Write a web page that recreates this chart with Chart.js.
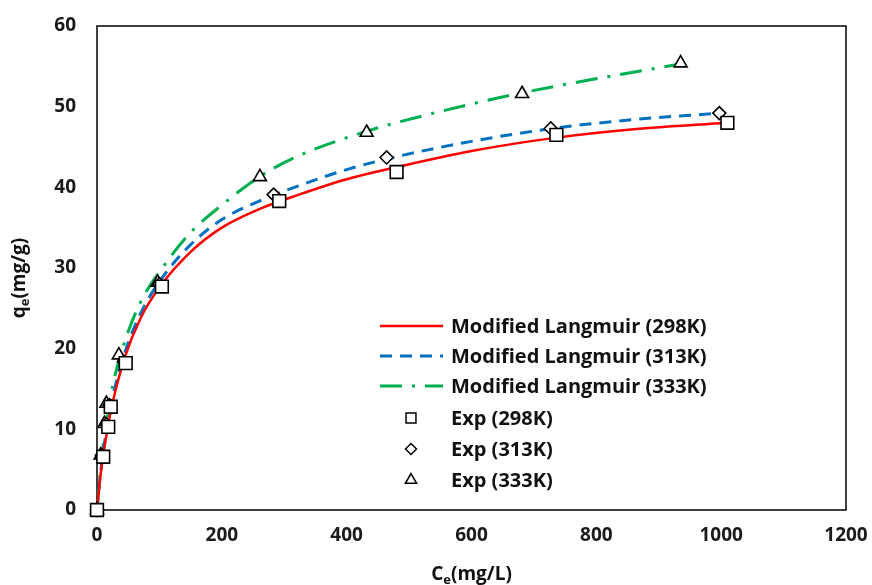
<!DOCTYPE html>
<html>
<head>
<meta charset="utf-8">
<script src="https://cdn.jsdelivr.net/npm/chart.js@4"></script>
<style>
  html, body { margin: 0; padding: 0; background: #fff; }
  #wrap { width: 872px; height: 585px; }
</style>
</head>
<body>
<div id="wrap"><canvas id="chart" width="872" height="585"></canvas></div>
<script>
// experimental points
const expC298 = [0, 10, 18, 22, 46, 104, 292, 480, 736, 1010];
const expQ298 = [0, 6.6, 10.3, 12.8, 18.2, 27.7, 38.3, 41.9, 46.5, 48.0];
const expC313 = [0, 8, 15, 20, 43, 100, 283, 464, 727, 997];
const expQ313 = [0, 6.8, 10.6, 13.0, 18.4, 28.0, 39.1, 43.7, 47.3, 49.2];
const expC333 = [0, 6, 12, 15, 35, 97, 261, 432, 681, 935];
const expQ333 = [0, 6.8, 10.7, 13.2, 19.2, 28.2, 41.3, 46.8, 51.6, 55.4];

// fitted curves
const fitC298 = [0, 2, 5, 10, 18, 25, 45, 70, 100, 150, 200, 260, 320, 400, 480, 600, 730, 860, 1010];
const fitQ298 = [0, 1.6, 3.9, 6.8, 10.6, 13.3, 19.0, 23.8, 27.6, 32.0, 35.0, 37.3, 39.0, 41.0, 42.5, 44.5, 46.1, 47.2, 48.0];
const fitC313 = [0, 2, 5, 10, 18, 25, 45, 70, 100, 150, 200, 260, 320, 400, 480, 600, 730, 860, 1000];
const fitQ313 = [0, 1.7, 4.1, 7.2, 11.2, 14.0, 19.6, 24.4, 28.3, 32.9, 36.0, 38.3, 40.1, 42.2, 43.8, 45.7, 47.3, 48.4, 49.2];
const fitC333 = [0, 2, 5, 10, 18, 25, 45, 70, 100, 150, 200, 260, 320, 430, 550, 680, 810, 935];
const fitQ333 = [0, 1.9, 4.5, 8.0, 12.4, 15.4, 21.0, 25.8, 29.5, 34.4, 37.8, 41.3, 43.8, 46.9, 49.4, 51.7, 53.6, 55.3];

const xTicks = [0, 200, 400, 600, 800, 1000, 1200];
const yTicks = [0, 10, 20, 30, 40, 50, 60];

const FONT = "'Open Sans', 'DejaVu Sans', sans-serif";
const pts = (xs, ys) => xs.map((x, i) => ({ x: x, y: ys[i] }));

const lineSets = [
  { label: 'Modified Langmuir (298K)', data: pts(fitC298, fitQ298), color: '#ff0000', dash: [], width: 2.5 },
  { label: 'Modified Langmuir (313K)', data: pts(fitC313, fitQ313), color: '#0070c0', dash: [12, 8], width: 3 },
  { label: 'Modified Langmuir (333K)', data: pts(fitC333, fitQ333), color: '#00b050', dash: [22, 10, 3, 10], width: 3 }
];
const markerSets = [
  { label: 'Exp (298K)', data: pts(expC298, expQ298), style: 'rect', r: 9, lr: 7 },
  { label: 'Exp (313K)', data: pts(expC313, expQ313), style: 'rectRot', r: 6.5, lr: 5.5 },
  { label: 'Exp (333K)', data: pts(expC333, expQ333), style: 'triangle', r: 7.5, lr: 6.5 }
];

const datasets = [];
lineSets.forEach(s => datasets.push({
  label: s.label, data: s.data, showLine: true, order: 2,
  borderColor: s.color, borderWidth: s.width, borderDash: s.dash,
  cubicInterpolationMode: 'monotone', pointRadius: 0, fill: false
}));
markerSets.forEach(s => datasets.push({
  label: s.label, data: s.data, showLine: false, order: 1, clip: false,
  pointStyle: s.style, pointRadius: s.r, pointBackgroundColor: '#fff',
  pointBorderColor: '#000', pointBorderWidth: 1.6
}));

// keep the plot box where the reference has it
function noPad(s) {
  s.paddingLeft = 0; s.paddingRight = 0; s.paddingTop = 0; s.paddingBottom = 0;
}

const decor = {
  id: 'decor',
  beforeDatasetsDraw(chart) {
    const { ctx, chartArea: a } = chart;
    ctx.save();
    ctx.strokeStyle = '#000';
    ctx.lineWidth = 1.5;
    ctx.strokeRect(a.left, a.top, a.right - a.left, a.bottom - a.top);
    ctx.restore();
  },
  afterDraw(chart) {
    const { ctx, chartArea: a } = chart;
    ctx.save();
    ctx.fillStyle = '#111';
    ctx.textBaseline = 'alphabetic';

    // x title C_e(mg/L)
    const big = 'bold 19px ' + FONT, small = 'bold 13px ' + FONT;
    ctx.font = big;
    const wC = ctx.measureText('C').width, wR = ctx.measureText('(mg/L)').width;
    ctx.font = small;
    const wE = ctx.measureText('e').width;
    let x = (a.left + a.right) / 2 - (wC + wE + wR) / 2, y = 580;
    ctx.font = big; ctx.fillText('C', x, y);
    ctx.font = small; ctx.fillText('e', x + wC, y + 4);
    ctx.font = big; ctx.fillText('(mg/L)', x + wC + wE, y);

    // y title q_e(mg/g)
    ctx.save();
    ctx.translate(25, (a.top + a.bottom) / 2 + 10);
    ctx.rotate(-Math.PI / 2);
    ctx.font = big;
    const wQ = ctx.measureText('q').width, wG = ctx.measureText('(mg/g)').width;
    x = -(wQ + wE + wG) / 2;
    ctx.fillText('q', x, 0);
    ctx.font = small; ctx.fillText('e', x + wQ, 4);
    ctx.font = big; ctx.fillText('(mg/g)', x + wQ + wE, 0);
    ctx.restore();

    // legend
    ctx.font = 'bold 20px ' + FONT;
    ctx.textBaseline = 'middle';
    const rows = [326, 356, 386, 418, 449, 480];
    lineSets.forEach((s, i) => {
      ctx.save();
      ctx.strokeStyle = s.color;
      ctx.lineWidth = s.width;
      ctx.setLineDash(s.dash);
      ctx.beginPath();
      ctx.moveTo(380, rows[i]);
      ctx.lineTo(443, rows[i]);
      ctx.stroke();
      ctx.restore();
      ctx.fillText(s.label, 451, rows[i] + 1);
    });
    markerSets.forEach((s, i) => {
      const yy = rows[i + 3];
      ctx.save();
      ctx.fillStyle = '#fff';
      ctx.strokeStyle = '#000';
      ctx.lineWidth = 1.5;
      Chart.helpers.drawPoint(ctx, { pointStyle: s.style, radius: s.lr, rotation: 0, borderWidth: 1.5 }, 411, yy);
      ctx.restore();
      ctx.fillText(s.label, 451, yy + 1);
    });
    ctx.restore();
  }
};

new Chart(document.getElementById('chart'), {
  type: 'scatter',
  data: { datasets: datasets },
  options: {
    responsive: false,
    animation: false,
    layout: { padding: { left: 0, right: 26, top: 26, bottom: 0 } },
    plugins: { legend: { display: false }, tooltip: { enabled: false } },
    scales: {
      x: {
        type: 'linear', min: 0, max: 1200,
        afterBuildTicks: s => { s.ticks = xTicks.map(v => ({ value: v })); },
        afterFit: s => { s.height = 75; noPad(s); },
        grid: { display: false, drawTicks: false },
        border: { display: false },
        ticks: {
          padding: 14, color: '#1a1a1a', maxRotation: 0,
          font: { family: FONT, size: 19, weight: 'bold' },
          callback: v => String(v)
        }
      },
      y: {
        type: 'linear', min: 0, max: 60,
        afterBuildTicks: s => { s.ticks = yTicks.map(v => ({ value: v })); },
        afterFit: s => { s.width = 97; noPad(s); },
        grid: { display: false, drawTicks: false },
        border: { display: false },
        ticks: {
          padding: 21, color: '#1a1a1a',
          font: { family: FONT, size: 19, weight: 'bold' },
          callback: v => String(v)
        }
      }
    }
  },
  plugins: [decor]
});
</script>
</body>
</html>
